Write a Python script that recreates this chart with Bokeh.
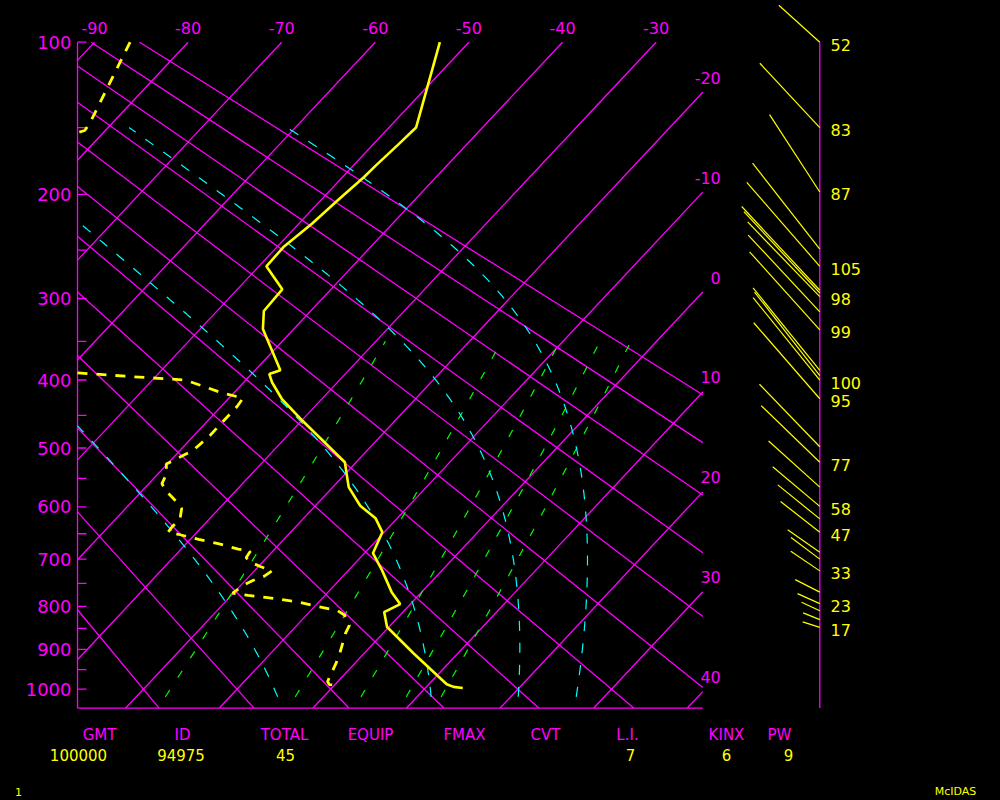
import numpy as np
from bokeh.plotting import figure
from bokeh.models import Range1d
from bokeh.core.properties import value
from bokeh.embed import file_html
from bokeh.resources import INLINE

# ---------------- values ----------------
temp_p = [100, 150, 162, 177, 186, 205, 225, 247, 266, 290, 314, 335, 387, 392, 403, 426,
          455, 523, 565, 598, 621, 647, 688, 723, 769, 795, 813, 847, 910, 987, 994, 997]
temp_t = [-53.1, -47.1, -47.3, -47.6, -47.7, -48.2, -48.6, -49.3, -49.2, -45.2, -45.0, -43.3,
          -37.3, -38.1, -37.0, -34.3, -30.3, -21.2, -18.3, -15.2, -12.3, -10.2, -9.1, -6.4,
          -3.2, -1.1, -2.0, -0.2, 5.3, 11.9, 12.9, 14.0]

dew_p = [100, 147, 152, 157, 250, 388, 395, 400, 408, 418, 425, 437, 481, 504, 520, 526, 542,
         559, 572, 591, 603, 623, 636, 647, 651, 661, 669, 680, 684, 697, 706, 715, 724, 735,
         744, 754, 771, 776, 784, 791, 800, 809, 820, 843, 862, 910, 935, 960, 980, 988, 990]
dew_t = [-86.2, -82.4, -82.2, -84.2, -76.0, -61.8, -53.1, -46.5, -44.1, -41.2, -38.5, -38.3,
         -38.3, -38.6, -39.7, -40.1, -39.1, -38.6, -37.4, -35.2, -34.0, -33.1, -33.2, -33.1,
         -31.8, -29.1, -26.6, -23.9, -22.4, -22.2, -21.3, -19.8, -18.1, -18.4, -19.2, -19.7,
         -20.1, -18.2, -14.6, -12.1, -9.8, -7.2, -5.9, -4.4, -4.0, -2.6, -2.0, -1.5, -1.1,
         -0.6, 0.5]

wind_p = [100, 150, 198, 249, 266, 291, 294, 298, 315, 336, 387, 394, 400, 426, 498, 523,
          565, 599, 622, 647, 686, 700, 724, 769, 794, 810, 830, 848]
wind_dir = [312, 317, 327, 322, 319, 317, 317, 316, 317, 318, 321, 322, 321, 319, 316, 314,
            312, 310, 309, 308, 305, 307, 304, 297, 294, 295, 292, 288]
wind_spd = [52, 83, 87, 103, 105, 108, 105, 98, 99, 99, 100, 100, 100, 95, 82, 77,
            65, 58, 51, 47, 37, 34, 33, 26, 23, 19, 17, 17]
wind_label = [1, 1, 1, 0, 1, 0, 0, 1, 0, 1, 0, 0, 1, 1, 0, 1,
              0, 1, 0, 1, 0, 0, 1, 0, 1, 0, 0, 1]

pressure_ticks = list(range(100, 1001, 50))
pressure_labels = list(range(100, 1001, 100))
isotherms = list(range(-90, 41, 10))
top_temp_labels = [-90, -80, -70, -60, -50, -40, -30]
right_temp_labels = [-20, -10, 0, 10, 20, 30, 40]
dry_adiabats = list(range(-20, 91, 10))          # theta, deg C at 1000 hPa
mixing_ratios = [1, 3, 5, 7, 9]                   # g/kg
moist_start_p = 1020
moist_start_t = [-4.9, 11.5, 20.8, 27.0]

index_names = ["GMT", "ID", "TOTAL", "EQUIP", "FMAX", "CVT", "L.I.", "KINX", "PW"]
index_values = ["100000", "94975", "45", "", "", "", "7", "6", "9"]

# ---------------- geometry of the diagram ----------------
KAPPA = 0.286
Y100, Y1000, Y1050 = 100 ** KAPPA, 1000 ** KAPPA, 1050 ** KAPPA
SKEW = 18.62          # deg C of skew per unit of p**kappa
PX_X, PX_Y = 9.36, 186.0
X0P, TOPP = 936.4, 41.7
W, H = 1000, 798

MAG, YEL, CYA, GRN = "#FF00FF", "#FFFF00", "#00FFFF", "#00FF00"
FONT = value("DejaVu Sans")


def Yp(p):
    return np.asarray(p, dtype=float) ** KAPPA


def skew_x(t, y):
    return np.asarray(t, dtype=float) - SKEW * (np.asarray(y) - Y100)


def page(xp, yp):
    return ((np.asarray(xp, dtype=float) - X0P) / PX_X,
            Y100 + (np.asarray(yp, dtype=float) - TOPP) / PX_Y)


X_LEFT = float(page(77, 0)[0])
X_RIGHT = float(page(702.3, 0)[0])
X_WIND = float(page(819.3, 0)[0])


def clip_straight(a, b):
    lo, hi = Y100, Y1050
    y1, y2 = (X_LEFT - a) / b, (X_RIGHT - a) / b
    lo, hi = max(lo, min(y1, y2)), min(hi, max(y1, y2))
    if lo >= hi:
        return None
    return [a + b * lo, a + b * hi], [lo, hi]


def clip_poly(X, Y):
    """Clip a polyline to the diagram box; returns lists of pieces for multi_line."""
    X = np.asarray(X, dtype=float); Y = np.asarray(Y, dtype=float)
    pieces_x, pieces_y = [], []
    cur_x, cur_y = None, None
    for i in range(len(X) - 1):
        x0, y0, x1, y1 = X[i], Y[i], X[i + 1], Y[i + 1]
        dx, dy = x1 - x0, y1 - y0
        t0, t1, ok = 0.0, 1.0, True
        for pp, qq in ((-dx, x0 - X_LEFT), (dx, X_RIGHT - x0), (-dy, y0 - Y100), (dy, Y1050 - y0)):
            if pp == 0:
                if qq < 0:
                    ok = False
            else:
                r = qq / pp
                if pp < 0:
                    t0 = max(t0, r)
                else:
                    t1 = min(t1, r)
        if not ok or t0 >= t1:
            cur_x = None
            continue
        ax_, ay_ = x0 + t0 * dx, y0 + t0 * dy
        bx_, by_ = x0 + t1 * dx, y0 + t1 * dy
        if cur_x is None or t0 > 0:
            cur_x, cur_y = [ax_], [ay_]
            pieces_x.append(cur_x); pieces_y.append(cur_y)
        cur_x.append(bx_); cur_y.append(by_)
        if t1 < 1:
            cur_x = None
    return pieces_x, pieces_y


x_start, y_top = page(0, 0)
x_end, y_bot = page(W, H)

p = figure(width=W, height=H, output_backend="svg", toolbar_location=None,
           x_range=Range1d(float(x_start), float(x_end)),
           y_range=Range1d(float(y_bot), float(y_top)),
           min_border_left=0, min_border_right=0, min_border_top=0, min_border_bottom=0,
           x_axis_location=None, y_axis_location=None,
           background_fill_color="black", border_fill_color="black",
           outline_line_color=None)
p.grid.visible = False

# isotherms
xs, ys = [], []
for t in isotherms:
    seg = clip_straight(t + SKEW * Y100, -SKEW)
    if seg:
        xs.append(seg[0]); ys.append(seg[1])
p.multi_line(xs, ys, line_color=MAG, line_width=1.3)

# dry adiabats
xs, ys = [], []
for th in dry_adiabats:
    seg = clip_straight(-273.15 + SKEW * Y100, (th + 273.15) / Y1000 - SKEW)
    if seg:
        xs.append(seg[0]); ys.append(seg[1])
p.multi_line(xs, ys, line_color=MAG, line_width=1.3)

# pressure axis (left border + ticks + labels), bottom border, wind axis
p.segment(x0=[X_LEFT, X_LEFT, X_WIND], y0=[Y100, Y1050, Y100],
          x1=[X_LEFT, X_RIGHT, X_WIND], y1=[Y1050, Y1050, Y1050],
          line_color=MAG, line_width=1.3)
ty = Yp(pressure_ticks)
p.segment(x0=np.full(len(ty), X_LEFT), y0=ty, x1=np.full(len(ty), X_LEFT + 9 / PX_X), y1=ty,
          line_color=MAG, line_width=1.3)
p.text(x=np.full(len(pressure_labels), X_LEFT - 6 / PX_X), y=Yp(pressure_labels),
       text=[str(v) for v in pressure_labels], text_color=MAG, text_font=FONT,
       text_font_size="18px", text_align="right", text_baseline="middle")

# saturation mixing-ratio lines
pm = np.geomspace(1020, 350, 400)
for w in mixing_ratios:
    e = w * pm / (622.0 + w)
    L = np.log(e / 6.112)
    t = 243.5 * L / (17.67 - L)
    xs, ys = clip_poly(skew_x(t, Yp(pm)), Yp(pm))
    p.multi_line(xs, ys, line_color=GRN, line_width=1.2, line_dash="8 15")


# saturated (pseudo-) adiabats
def dtdlnp(TK, P):
    tc = TK - 273.15
    es = 6.112 * np.exp(17.67 * tc / (tc + 243.5))
    rs = 0.622 * es / (P - es)
    Rd, Cp, Lv = 287.04, 1005.7, 2.501e6
    return (Rd * TK + Lv * rs) / (Cp + Lv * Lv * rs * 0.622 / (Rd * TK * TK))


lnp = np.linspace(np.log(moist_start_p), np.log(150), 500)
for t0 in moist_start_t:
    TK = np.empty_like(lnp)
    TK[0] = t0 + 273.15
    for i in range(1, len(lnp)):
        h = lnp[i] - lnp[i - 1]
        P0 = np.exp(lnp[i - 1]); P1 = np.exp(lnp[i - 1] + h / 2); P2 = np.exp(lnp[i])
        k1 = dtdlnp(TK[i - 1], P0)
        k2 = dtdlnp(TK[i - 1] + h * k1 / 2, P1)
        k3 = dtdlnp(TK[i - 1] + h * k2 / 2, P1)
        k4 = dtdlnp(TK[i - 1] + h * k3, P2)
        TK[i] = TK[i - 1] + h * (k1 + 2 * k2 + 2 * k3 + k4) / 6
    P = np.exp(lnp)
    xs, ys = clip_poly(skew_x(TK - 273.15, Yp(P)), Yp(P))
    p.multi_line(xs, ys, line_color=CYA, line_width=1.2, line_dash="10 12")

# sounding: temperature (solid) and dew point (dashed)
xs, ys = clip_poly(skew_x(temp_t, Yp(temp_p)), Yp(temp_p))
p.multi_line(xs, ys, line_color=YEL, line_width=2.6)
xs, ys = clip_poly(skew_x(dew_t, Yp(dew_p)), Yp(dew_p))
p.multi_line(xs, ys, line_color=YEL, line_width=2.8, line_dash="10 9")

# winds
wd = np.radians(wind_dir)
wl = np.array(wind_spd) * 1.06
wy = Yp(wind_p)
p.segment(x0=np.full(len(wy), X_WIND), y0=wy,
          x1=X_WIND + wl * np.sin(wd) / PX_X, y1=wy - wl * np.cos(wd) / PX_Y,
          line_color=YEL, line_width=1.2)
lab_p = [pp for pp, f in zip(wind_p, wind_label) if f]
lab_s = [str(s) for s, f in zip(wind_spd, wind_label) if f]
p.text(x=np.full(len(lab_p), page(830, 0)[0]), y=Yp(lab_p) + 2.5 / PX_Y, text=lab_s,
       text_color=YEL, text_font=FONT, text_font_size="16px",
       text_align="left", text_baseline="middle")

# temperature labels
p.text(x=top_temp_labels, y=np.full(len(top_temp_labels), Y100 - 14.2 / PX_Y),
       text=[str(t) for t in top_temp_labels], text_color=MAG, text_font=FONT,
       text_font_size="16px", text_align="center", text_baseline="middle")
ycross = Y100 + (np.array(right_temp_labels) - X_RIGHT) / SKEW
p.text(x=np.full(len(ycross), X_RIGHT + 18 / PX_X), y=ycross - 14.5 / PX_Y,
       text=[str(t) for t in right_temp_labels], text_color=MAG, text_font=FONT,
       text_font_size="16px", text_align="right", text_baseline="middle")

# index strip below the diagram
hdr_x = [99, 182, 284, 370, 464, 545, 627, 726, 779]
val_x = [78, 180.5, 285, 370, 464, 545, 630, 726, 788]
p.text(x=page(hdr_x, 0)[0], y=np.full(9, page(0, 734)[1]), text=index_names,
       text_color=MAG, text_font=FONT, text_font_size="15px",
       text_align="center", text_baseline="middle")
p.text(x=page(val_x, 0)[0], y=np.full(9, page(0, 754)[1]), text=index_values,
       text_color=YEL, text_font=FONT, text_font_size="15px",
       text_align="center", text_baseline="middle")
p.text(x=page([18, 955], 0)[0], y=np.full(2, page(0, 791)[1]), text=["1", "McIDAS"],
       text_color=YEL, text_font=FONT, text_font_size="11px",
       text_align="center", text_baseline="middle")

html = file_html(p, INLINE)
html = html.replace("</head>", "<style>html, body { background-color: #000000; }</style></head>", 1)
open("out.html", "w").write(html)
